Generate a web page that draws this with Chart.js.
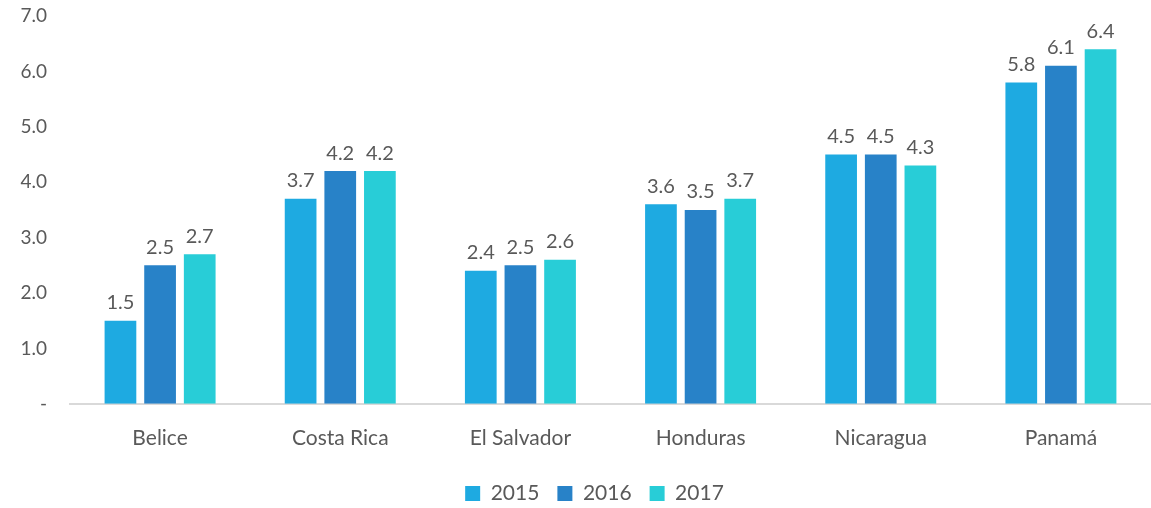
<!DOCTYPE html>
<html>
<head>
<meta charset="utf-8">
<script src="https://cdn.jsdelivr.net/npm/chart.js@4/dist/chart.umd.min.js"></script>
<style>
  html, body { margin: 0; padding: 0; background: #fff; overflow: hidden; }
  #wrap { width: 1151px; height: 514px; }
</style>
</head>
<body>
<div id="wrap"><canvas id="chart"></canvas></div>
<script>
const categories = ['Belice', 'Costa Rica', 'El Salvador', 'Honduras', 'Nicaragua', 'Panamá'];
const seriesNames = ['2015', '2016', '2017'];
const values2015 = [1.5, 3.7, 2.4, 3.6, 4.5, 5.8];
const values2016 = [2.5, 4.2, 2.5, 3.5, 4.5, 6.1];
const values2017 = [2.7, 4.2, 2.6, 3.7, 4.3, 6.4];
const yTicks = [0, 1, 2, 3, 4, 5, 6, 7];

const colors = ['#1EAAE1', '#2882C8', '#28CDD7'];
const textColor = '#595959';
const fontFamily = 'Lato, "Open Sans", sans-serif';

// draws the value above each bar
const barLabels = {
    id: 'barLabels',
    afterLayout(chart) {
        // legend sits a bit right of centre in the original
        chart.legend.left += 19;
        chart.legend.right += 19;
    },
    afterDatasetsDraw(chart) {
        const ctx = chart.ctx;
        ctx.save();
        ctx.font = '20px ' + fontFamily;
        ctx.fillStyle = textColor;
        ctx.textAlign = 'center';
        ctx.textBaseline = 'bottom';
        chart.data.datasets.forEach((ds, i) => {
            const meta = chart.getDatasetMeta(i);
            meta.data.forEach((bar, j) => {
                ctx.fillText(ds.data[j].toFixed(1), bar.x, bar.y - 8);
            });
        });
        ctx.restore();
    }
};

const allSeries = [values2015, values2016, values2017];

new Chart(document.getElementById('chart').getContext('2d'), {
    type: 'bar',
    data: {
        labels: categories,
        datasets: allSeries.map((vals, i) => ({
            label: seriesNames[i],
            data: vals,
            backgroundColor: colors[i],
            borderWidth: 0,
            barPercentage: 0.8,
            categoryPercentage: 0.66
        }))
    },
    options: {
        responsive: true,
        maintainAspectRatio: false,
        animation: false,
        layout: { padding: 0 },
        plugins: {
            legend: {
                position: 'bottom',
                labels: {
                    color: textColor,
                    font: { size: 21, family: fontFamily },
                    boxWidth: 15,
                    boxHeight: 15,
                    padding: 18
                }
            },
            tooltip: { enabled: false }
        },
        scales: {
            x: {
                grid: { display: false },
                border: { display: true, color: '#D9D9D9', width: 2 },
                ticks: {
                    color: textColor,
                    font: { size: 21, family: fontFamily },
                    padding: 14
                }
            },
            y: {
                min: yTicks[0],
                max: yTicks[yTicks.length - 1],
                afterFit(scale) {
                    scale.width = 70;
                    scale.paddingTop = 16;
                },
                grid: { display: false },
                border: { display: false },
                afterBuildTicks(scale) {
                    scale.ticks = yTicks.map(v => ({ value: v }));
                },
                ticks: {
                    color: textColor,
                    font: { size: 19, family: fontFamily },
                    padding: 15,
                    callback: function(value) {
                        return value === 0 ? '-' : value.toFixed(1);
                    }
                }
            }
        }
    },
    plugins: [barLabels]
});
</script>
</body>
</html>
